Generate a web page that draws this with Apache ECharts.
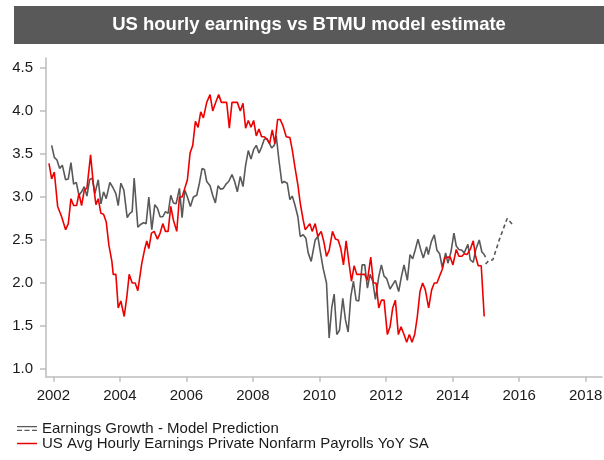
<!DOCTYPE html>
<html>
<head>
<meta charset="utf-8">
<script src="https://cdn.jsdelivr.net/npm/echarts@6/dist/echarts.min.js"></script>
<style>
html,body{margin:0;padding:0;background:#fff;}
#chart{width:604px;height:460px;}
</style>
</head>
<body>
<div id="chart"></div>
<script>
// ---- DATA (decimal year, value) ----
const titleText = 'US hourly earnings vs BTMU model estimate';
const modelName = 'Earnings Growth - Model Prediction';
const actualName = 'US Avg Hourly Earnings Private Nonfarm Payrolls YoY SA';
const xTicks = [2002, 2004, 2006, 2008, 2010, 2012, 2014, 2016, 2018];
const yTicks = [1.0, 1.5, 2.0, 2.5, 3.0, 3.5, 4.0, 4.5];

const modelHistory = [[2001.95,3.60],[2002.03,3.46],[2002.11,3.43],[2002.19,3.33],[2002.27,3.37],[2002.37,3.20],[2002.45,3.21],[2002.53,3.40],[2002.61,3.15],[2002.69,3.17],[2002.77,3.02],[2002.85,3.06],[2002.93,3.12],[2003.01,3.01],[2003.09,3.20],[2003.17,3.22],[2003.25,3.04],[2003.35,3.20],[2003.43,2.92],[2003.51,3.06],[2003.59,2.98],[2003.70,3.17],[2003.79,3.11],[2003.88,3.04],[2003.95,2.90],[2004.03,3.16],[2004.12,3.08],[2004.22,2.76],[2004.30,2.81],[2004.37,2.83],[2004.43,3.22],[2004.54,2.65],[2004.62,2.68],[2004.71,2.70],[2004.79,2.69],[2004.87,3.00],[2004.96,2.62],[2005.05,2.91],[2005.13,2.87],[2005.21,2.77],[2005.29,2.77],[2005.37,2.83],[2005.45,2.81],[2005.53,3.02],[2005.61,2.93],[2005.69,2.92],[2005.79,3.10],[2005.87,2.76],[2005.95,3.08],[2006.03,3.00],[2006.12,2.89],[2006.21,3.00],[2006.31,3.02],[2006.39,3.16],[2006.47,3.33],[2006.54,3.32],[2006.61,3.18],[2006.71,3.13],[2006.79,3.02],[2006.87,2.93],[2006.95,3.13],[2007.03,3.09],[2007.11,3.10],[2007.19,3.15],[2007.27,3.18],[2007.37,3.26],[2007.45,3.18],[2007.53,3.06],[2007.62,3.24],[2007.70,3.12],[2007.78,3.37],[2007.86,3.54],[2007.94,3.44],[2008.02,3.55],[2008.10,3.60],[2008.18,3.51],[2008.26,3.58],[2008.34,3.67],[2008.42,3.68],[2008.50,3.62],[2008.56,3.57],[2008.64,3.60],[2008.70,3.71],[2008.78,3.43],[2008.87,3.16],[2008.94,3.18],[2009.03,3.16],[2009.11,2.97],[2009.18,3.01],[2009.26,2.91],[2009.35,2.77],[2009.42,2.54],[2009.51,2.56],[2009.59,2.52],[2009.66,2.35],[2009.75,2.25],[2009.81,2.25],[2009.87,2.50],[2009.95,2.54],[2010.03,2.35],[2010.11,2.17],[2010.21,2.00],[2010.29,1.36],[2010.37,1.72],[2010.44,1.87],[2010.52,1.40],[2010.60,1.45],[2010.70,1.82],[2010.78,1.57],[2010.86,1.43],[2010.94,1.84],[2011.02,2.02],[2011.10,1.80],[2011.18,1.79],[2011.28,2.21],[2011.36,2.21],[2011.44,1.94],[2011.52,2.10],[2011.60,2.02],[2011.68,1.81],[2011.78,2.07],[2011.86,2.21],[2011.94,2.08],[2012.02,2.05],[2012.12,1.93],[2012.20,1.98],[2012.28,2.03],[2012.38,1.90],[2012.46,2.07],[2012.54,2.21],[2012.64,2.03],[2012.72,2.33],[2012.80,2.28],[2012.88,2.39],[2012.96,2.51],[2013.04,2.39],[2013.12,2.29],[2013.22,2.42],[2013.27,2.33],[2013.36,2.48],[2013.45,2.56],[2013.53,2.38],[2013.61,2.34],[2013.69,2.18],[2013.79,2.35],[2013.86,2.23],[2013.95,2.36],[2014.04,2.58],[2014.11,2.43],[2014.19,2.39],[2014.28,2.38],[2014.35,2.35],[2014.46,2.45],[2014.53,2.27],[2014.62,2.24],[2014.69,2.38],[2014.80,2.50],[2014.88,2.36],[2014.95,2.33],[2014.99,2.30]];

const modelForecast = [[2014.99,2.22],[2015.09,2.26],[2015.21,2.27],[2015.41,2.51],[2015.64,2.75],[2015.82,2.67]];

const actualEarnings = [[2001.87,3.39],[2001.95,3.21],[2002.03,3.29],[2002.13,2.89],[2002.25,2.77],[2002.37,2.62],[2002.45,2.69],[2002.53,2.98],[2002.61,2.90],[2002.70,2.90],[2002.77,3.04],[2002.85,2.90],[2002.93,3.08],[2003.01,3.10],[2003.12,3.49],[2003.20,3.16],[2003.28,2.91],[2003.35,2.98],[2003.43,2.81],[2003.51,2.80],[2003.59,2.71],[2003.67,2.44],[2003.76,2.25],[2003.80,2.10],[2003.88,2.10],[2003.95,1.71],[2004.03,1.79],[2004.13,1.61],[2004.21,1.84],[2004.28,2.10],[2004.37,2.00],[2004.46,2.00],[2004.54,1.91],[2004.66,2.23],[2004.75,2.40],[2004.81,2.49],[2004.87,2.40],[2004.95,2.58],[2005.03,2.60],[2005.13,2.51],[2005.21,2.58],[2005.29,2.69],[2005.37,2.60],[2005.45,2.60],[2005.53,2.89],[2005.61,2.73],[2005.71,2.60],[2005.79,3.00],[2005.87,3.00],[2005.95,3.10],[2006.03,3.20],[2006.11,3.51],[2006.19,3.60],[2006.27,3.88],[2006.35,3.81],[2006.43,3.99],[2006.51,3.92],[2006.61,4.10],[2006.71,4.19],[2006.79,4.00],[2006.89,4.11],[2006.97,4.19],[2007.05,4.10],[2007.13,4.10],[2007.21,4.10],[2007.29,3.80],[2007.37,4.10],[2007.45,4.10],[2007.53,4.10],[2007.62,4.00],[2007.70,4.09],[2007.78,3.80],[2007.86,3.89],[2007.94,3.81],[2008.02,3.89],[2008.10,3.71],[2008.18,3.79],[2008.26,3.70],[2008.34,3.70],[2008.42,3.67],[2008.50,3.62],[2008.58,3.78],[2008.66,3.62],[2008.74,3.90],[2008.82,3.90],[2008.90,3.83],[2009.00,3.70],[2009.11,3.69],[2009.18,3.55],[2009.26,3.35],[2009.35,3.14],[2009.42,2.93],[2009.51,2.73],[2009.57,2.62],[2009.63,2.60],[2009.71,2.69],[2009.78,2.60],[2009.87,2.69],[2009.95,2.54],[2010.05,2.60],[2010.13,2.48],[2010.21,2.31],[2010.29,2.38],[2010.39,2.60],[2010.48,2.51],[2010.56,2.50],[2010.64,2.40],[2010.72,2.21],[2010.80,2.49],[2010.88,2.25],[2010.96,2.02],[2011.04,2.20],[2011.12,2.10],[2011.20,2.10],[2011.28,2.10],[2011.36,2.10],[2011.44,2.03],[2011.54,2.30],[2011.62,2.00],[2011.70,2.00],[2011.78,1.71],[2011.86,1.80],[2011.94,1.80],[2012.04,1.40],[2012.12,1.49],[2012.20,1.71],[2012.28,1.80],[2012.37,1.40],[2012.45,1.49],[2012.54,1.40],[2012.62,1.31],[2012.70,1.40],[2012.78,1.31],[2012.86,1.40],[2012.94,1.61],[2013.02,1.90],[2013.10,2.00],[2013.18,1.92],[2013.28,1.71],[2013.37,1.92],[2013.45,2.00],[2013.53,2.00],[2013.61,2.08],[2013.69,2.16],[2013.77,2.29],[2013.85,2.30],[2013.93,2.30],[2014.01,2.21],[2014.11,2.39],[2014.19,2.31],[2014.28,2.31],[2014.35,2.34],[2014.43,2.33],[2014.53,2.39],[2014.62,2.49],[2014.69,2.31],[2014.77,2.20],[2014.86,2.20],[2014.95,1.61]];

// ---- CHART ----
const GRAY = '#595959';
const RED = '#ee0000';
const FONT = '"Liberation Sans", Arial, sans-serif';
const chart = echarts.init(document.getElementById('chart'), null, {renderer: 'canvas'});

const option = {
  backgroundColor: '#ffffff',
  animation: false,
  graphic: [
    {type: 'rect', left: 14, top: 6, shape: {width: 590, height: 38}, style: {fill: '#595959'}, z: 0},
    {type: 'text', x: 309, y: 25, style: {text: titleText, fill: '#ffffff', font: 'bold 18.5px ' + FONT, align: 'center', verticalAlign: 'middle'}, z: 1}
  ],
  grid: {left: 46, right: 2, top: 58, bottom: 83.3, containLabel: false, outerBoundsMode: 'none'},
  xAxis: {
    type: 'value', min: 2001.78, max: 2018.49,
    axisLine: {show: true, lineStyle: {color: '#bdbdbd', width: 1.5}},
    axisTick: {show: true, length: 5, lineStyle: {color: '#bdbdbd', width: 1.5}, customValues: xTicks},
    axisLabel: {customValues: xTicks, color: '#1a1a1a', fontFamily: FONT, fontSize: 15, margin: 12, formatter: v => String(Math.round(v))},
    splitLine: {show: false}
  },
  yAxis: {
    type: 'value', min: 0.91, max: 4.616,
    axisLine: {show: true, lineStyle: {color: '#bdbdbd', width: 1.5}},
    axisTick: {show: true, length: 6, lineStyle: {color: '#bdbdbd', width: 1.5}, customValues: yTicks},
    axisLabel: {customValues: yTicks, color: '#1a1a1a', fontFamily: FONT, fontSize: 15, margin: 13, formatter: v => v.toFixed(1)},
    splitLine: {show: false}
  },
  legend: {
    orient: 'vertical', left: 17, top: 421, padding: 0, itemGap: 0, itemWidth: 20, itemHeight: 5,
    symbolKeepAspect: true,
    textStyle: {color: '#1a1a1a', fontFamily: FONT, fontSize: 15, lineHeight: 14, padding: [0,0,0,0]},
    data: [
      {name: modelName, icon: 'path://M0,0H20V1.3H0Z M0,3.7H5V5H0Z M7.5,3.7H12.5V5H7.5Z M15,3.7H20V5H15Z', itemStyle: {color: GRAY}},
      {name: actualName, icon: 'path://M0,0H20V1.5H0Z', itemStyle: {color: RED}}
    ]
  },
  series: [
    {name: modelName, type: 'line', data: modelHistory, showSymbol: false, symbol: 'none', lineStyle: {color: GRAY, width: 1.6}, itemStyle: {color: GRAY}, z: 2},
    {name: modelName, type: 'line', data: modelForecast, showSymbol: false, symbol: 'none', lineStyle: {color: GRAY, width: 1.6, type: [4, 3]}, itemStyle: {color: GRAY}, z: 2},
    {name: actualName, type: 'line', data: actualEarnings, showSymbol: false, symbol: 'none', lineStyle: {color: RED, width: 1.6}, itemStyle: {color: RED}, z: 3}
  ]
};
chart.setOption(option);
</script>
</body>
</html>
